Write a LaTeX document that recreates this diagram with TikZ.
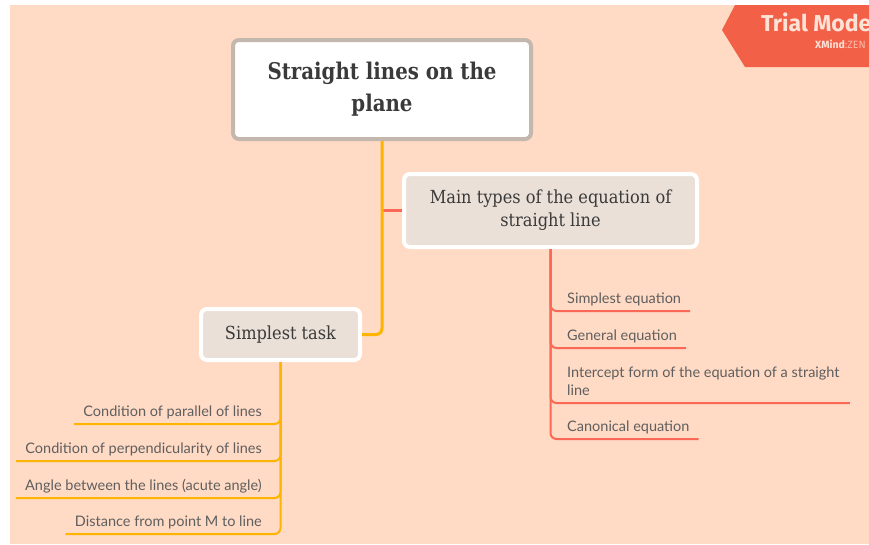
\documentclass[tikz,border=0pt]{standalone}
\usepackage{fontspec}
\usetikzlibrary{calc}
\newfontfamily\slabfont[FakeStretch=0.9]{DejaVu Serif}
\newfontfamily\slabbold[FakeStretch=0.86]{DejaVu Serif Bold}
\newfontfamily\itemfont{Lato}
\newfontfamily\badgefont{Fira Sans}
\definecolor{paper}{RGB}{255,218,196}
\definecolor{trunk}{RGB}{255,180,0}
\definecolor{branch}{RGB}{250,105,85}
\definecolor{rootedge}{RGB}{196,184,174}
\definecolor{topicfill}{RGB}{234,224,216}
\definecolor{badgefill}{RGB}{242,96,72}
\definecolor{badgeink}{RGB}{255,226,214}
\definecolor{ink}{RGB}{58,58,58}
\definecolor{itemink}{RGB}{95,95,95}
\tikzset{
  rootbox/.style={draw=rootedge, line width=4pt, fill=white, rounded corners=6pt,
    align=center, text=ink, font=\slabbold\fontsize{23}{32}\selectfont},
  topicbox/.style={draw=white, line width=4pt, fill=topicfill, rounded corners=6pt,
    align=center, text=ink, font=\slabfont\fontsize{18}{23}\selectfont},
  itemtext/.style={inner sep=0pt, align=left, text=itemink,
    font=\itemfont\fontsize{14.5}{18}\selectfont},
  orangeline/.style={draw=trunk, line width=3pt, rounded corners=6pt},
  redline/.style={draw=branch, line width=3pt, rounded corners=6pt},
  orangeleaf/.style={draw=trunk, line width=2pt, rounded corners=6pt},
  redleaf/.style={draw=branch, line width=2pt, rounded corners=6pt},
}
\begin{document}
\begin{tikzpicture}[x=1pt,y=-1pt]
\useasboundingbox (0,0) rectangle (869,544);
\fill[paper] (10,5) rectangle (869,544);

% main topics
\node[rootbox, minimum width=298pt, minimum height=99pt] (root) at (382,89.5)
  {Straight lines on the\\plane};
\node[topicbox, minimum width=293pt, minimum height=73pt] (main) at (550.5,210.5)
  {Main types of the equation of\\straight line};
\node[topicbox, minimum width=159pt, minimum height=51pt] (task) at (280.5,334.5)
  {Simplest task};

% connectors between topics
\draw[redline] (main.west) -- (main.west -| root.south);
\draw[orangeline] (root.south) |- (task.east);

% right-hand subtopics
\node[itemtext, anchor=base west] (r1) at (567,303) {Simplest equation};
\node[itemtext, anchor=base west] (r2) at (567,340) {General equation};
\node[itemtext, anchor=base west] (r3) at (567,395) {Intercept form of the equation of a straight\\line};
\node[itemtext, anchor=base west] (r4) at (567,431) {Canonical equation};
\coordinate (ru1) at ($(r1.base east)+(9,8)$);
\coordinate (ru2) at ($(r2.base east)+(9,8)$);
\coordinate (ru3) at ($(r3.base east)+(10,8)$);
\coordinate (ru4) at ($(r4.base east)+(9,8)$);
\foreach \u in {ru1,ru2,ru3,ru4}
  \draw[redleaf] (main.south) |- (\u);

% left-hand subtopics
\node[itemtext, anchor=base east] (l1) at (262,416) {Condition of parallel of lines};
\node[itemtext, anchor=base east] (l2) at (262,453) {Condition of perpendicularity of lines};
\node[itemtext, anchor=base east] (l3) at (262,490) {Angle between the lines (acute angle)};
\node[itemtext, anchor=base east] (l4) at (262,526) {Distance from point M to line};
\coordinate (lu1) at ($(l1.base west)+(-9,8)$);
\coordinate (lu2) at ($(l2.base west)+(-9,8)$);
\coordinate (lu3) at ($(l3.base west)+(-9,8)$);
\coordinate (lu4) at ($(l4.base west)+(-9,8)$);
\foreach \u in {lu1,lu2,lu3,lu4}
  \draw[orangeleaf] (task.south) |- (\u);

% trial badge in the corner, cut by the page edge
\begin{scope}
  \clip (0,0) rectangle (869,544);
  \fill[badgefill] (722,30) -- (735,5) -- (869,5) -- (869,67) -- (745,67) -- cycle;
  \node[anchor=base west, inner sep=0pt, text=badgeink,
    font=\badgefont\bfseries\fontsize{23}{26}\selectfont] (badge) at (761,31) {Trial Mode};
  \node[anchor=base west, inner sep=0pt, text=badgeink,
    font=\badgefont\fontsize{10.5}{12}\selectfont] (brand) at (815,48)
    {\textbf{XMind}\textcolor{badgeink!70!badgefill}{:ZEN}};
\end{scope}
\end{tikzpicture}
\end{document}
